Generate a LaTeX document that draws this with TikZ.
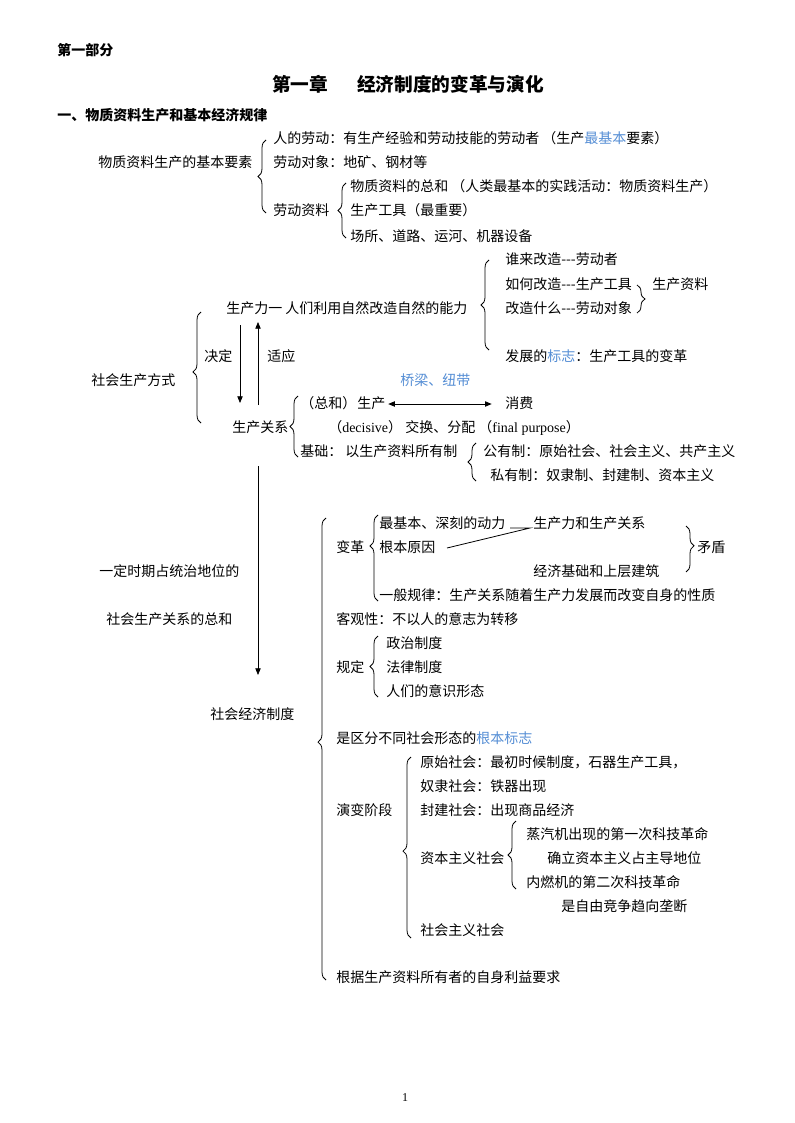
\documentclass[tikz,border=0pt]{standalone}
\usepackage{fontspec}
\setmainfont{Noto Sans CJK SC}
\newfontfamily\enfont{Liberation Serif}
\usepackage{xcolor}
\usetikzlibrary{arrows.meta,decorations.pathreplacing}
\definecolor{ink}{HTML}{000000}
\definecolor{mark}{HTML}{558ED5}
\tikzset{
  lab/.style={anchor=west, inner sep=0pt, yshift=-1.5pt, text=ink, text height=8pt, text depth=2pt, font=\fontsize{10.5pt}{12pt}\selectfont},
  labb/.style={lab, font=\fontsize{10.5pt}{12pt}\selectfont\bfseries},
  head/.style={lab, text height=10.5pt, text depth=2.5pt, font=\fontsize{14pt}{16pt}\selectfont\bfseries},
  pg/.style={inner sep=0pt, text=ink, font=\enfont\fontsize{9pt}{10pt}\selectfont},
  brl/.style={draw=ink, line width=0.6pt, decorate, decoration={brace, amplitude=6pt}},
  ln/.style={draw=ink, line width=0.6pt},
  arr/.style={ln, -{Triangle[length=5pt,width=4pt]}},
  darr/.style={ln, {Triangle[length=5pt,width=4pt]}-{Triangle[length=5pt,width=4pt]}},
}
\begin{document}
\begin{tikzpicture}[x=0.75pt,y=-0.75pt]
  \useasboundingbox[fill=white] (0,0) rectangle (794,1123);
  % headings
  \node[labb] (bf) at (57,50) {第一部分};
  \node[head] (ch) at (272,84) {第一章};
  \node[head] (cht) at (357,84) {经济制度的变革与演化};
  \node[labb] (sec) at (57,115) {一、物质资料生产和基本经济规律};
  % basic elements
  \node[lab] (ys) at (98,162) {物质资料生产的基本要素};
  \node[lab] (rl) at (273,138) {人的劳动：有生产经验和劳动技能的劳动者 （生产\textcolor{mark}{最基本}要素）};
  \node[lab] (dx) at (273,162) {劳动对象：地矿、钢材等};
  \node[lab] (zl) at (273,210) {劳动资料};
  \node[lab] (zh1) at (350,186) {物质资料的总和 （人类最基本的实践活动：物质资料生产）};
  \node[lab] (gj) at (350,210) {生产工具（最重要）};
  \node[lab] (cs) at (350,235) {场所、道路、运河、机器设备};
  \draw[brl] (266,213) -- (266,140);
  \draw[brl] (346,238) -- (346,183);
  % productive forces
  \node[lab] (scl) at (226,307) {生产力一 人们利用自然改造自然的能力};
  \node[lab] (sl1) at (505,258) {谁来改造-{}-{}-劳动者};
  \node[lab] (sl2) at (505,283) {如何改造-{}-{}-生产工具};
  \node[lab] (sl3) at (505,307) {改造什么-{}-{}-劳动对象};
  \node[lab] (bz) at (505,355) {发展的\textcolor{mark}{标志}：生产工具的变革};
  \node[lab] (sczl) at (652,283) {生产资料};
  \draw[brl] (489,350) -- (489,260);
  \draw[brl] (637,285) -- (637,313);
  % mode of production
  \node[lab] (fs) at (91,379) {社会生产方式};
  \node[lab] (jd) at (204,355) {决定};
  \node[lab] (sy) at (267,355) {适应};
  \draw[brl, decoration={aspect=0.46}] (201,423) -- (201,312);
  \coordinate (jdT) at (240,325);
  \coordinate (jdB) at (240,403);
  \coordinate (syB) at (258,405);
  \coordinate (syT) at (258,322);
  \draw[arr] (jdT) -- (jdB);
  \draw[arr] (syB) -- (syT);
  % relations of production
  \node[lab, text=mark] (ql) at (400,379) {桥梁、纽带};
  \node[lab] (zh) at (300,402) {（总和）};
  \node[lab] (sc) at (357,402) {生产};
  \node[lab] (xf) at (505,402) {消费};
  \draw[darr, shorten <=2pt, shorten >=10pt] (sc.east) -- (xf.west);
  \node[lab] (gx) at (232,426) {生产关系};
  \node[lab] (dj) at (328,426) {（{\enfont decisive}） 交换、分配 （{\enfont final purpose}）};
  \node[lab] (jc) at (300,450) {基础： 以生产资料所有制};
  \node[lab] (gy) at (483,450) {公有制：原始社会、社会主义、共产主义};
  \node[lab] (sy2) at (490,474) {私有制：奴隶制、封建制、资本主义};
  \draw[brl] (298,457) -- (298,396);
  \draw[brl] (476,481) -- (476,443);
  \coordinate (zdT) at (258,466);
  \coordinate (zdB) at (258,675);
  \draw[arr] (zdT) -- (zdB);
  % economic system
  \node[lab] (tz1) at (99,570) {一定时期占统治地位的};
  \node[lab] (tz2) at (106,618) {社会生产关系的总和};
  \node[lab] (jjzd) at (210,713) {社会经济制度};
  \draw[brl, decoration={aspect=0.515}] (326,980) -- (326,518);
  \node[lab] (bg) at (336,546) {变革};
  \node[lab] (dl) at (379,522) {最基本、深刻的动力};
  \node[lab] (yy) at (379,546) {根本原因};
  \node[lab] (scgx) at (533,522) {生产力和生产关系};
  \node[lab] (jjjc) at (533,570) {经济基础和上层建筑};
  \node[lab] (md) at (697,546) {矛盾};
  \node[lab] (gl) at (379,594) {一般规律：生产关系随着生产力发展而改变自身的性质};
  \draw[brl, decoration={aspect=0.64}] (378,601) -- (378,515);
  \draw[brl, decoration={aspect=0.43}] (686,526) -- (686,572);
  \coordinate (dlE) at (510,528);
  \coordinate (scW) at (530,528);
  \coordinate (yyE) at (447,548);
  \draw[ln] (yyE) -- (scW) -- (dlE);
  \node[lab] (kg) at (336,618) {客观性：不以人的意志为转移};
  \node[lab] (gd) at (336,666) {规定};
  \node[lab] (zz) at (386,642) {政治制度};
  \node[lab] (fl) at (386,666) {法律制度};
  \node[lab] (ysxt) at (386,690) {人们的意识形态};
  \draw[brl] (378,697) -- (378,636);
  \node[lab] (bz2) at (336,737) {是区分不同社会形态的\textcolor{mark}{根本标志}};
  % stages
  \node[lab] (yb) at (336,809) {演变阶段};
  \node[lab] (ysh) at (420,761) {原始社会：最初时候制度，石器生产工具，};
  \node[lab] (nl) at (420,785) {奴隶社会：铁器出现};
  \node[lab] (fj) at (420,809) {封建社会：出现商品经济};
  \node[lab] (zb) at (420,857) {资本主义社会};
  \node[lab] (zq) at (526,833) {蒸汽机出现的第一次科技革命};
  \node[lab] (qd) at (547,857) {确立资本主义占主导地位};
  \node[lab] (nr) at (526,881) {内燃机的第二次科技革命};
  \node[lab] (ld) at (561,905) {是自由竞争趋向垄断};
  \node[lab] (shzy) at (420,929) {社会主义社会};
  \draw[brl, decoration={aspect=0.48}] (411,938) -- (411,757);
  \draw[brl] (516,889) -- (516,821);
  \node[lab] (gjyq) at (336,976) {根据生产资料所有者的自身利益要求};
  \node[pg] (pn) at (405,1098) {1};
\end{tikzpicture}
\end{document}
